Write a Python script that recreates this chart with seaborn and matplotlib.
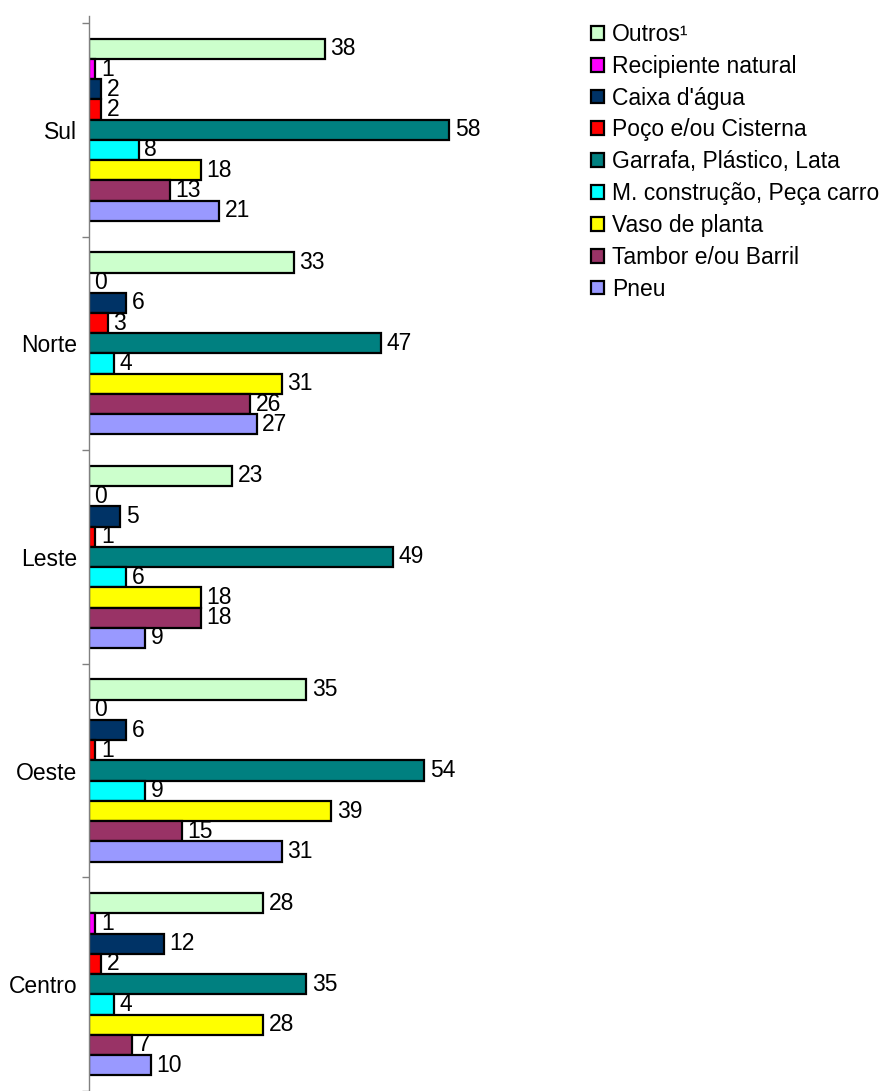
import numpy as np
import pandas as pd
import matplotlib
matplotlib.use("Agg")
import matplotlib.pyplot as plt
import seaborn as sns

regions = ["Sul", "Norte", "Leste", "Oeste", "Centro"]
categories = ["Outros¹", "Recipiente natural", "Caixa d'água", "Poço e/ou Cisterna",
              "Garrafa, Plástico, Lata", "M. construção, Peça carro", "Vaso de planta",
              "Tambor e/ou Barril", "Pneu"]
sul = [38, 1, 2, 2, 58, 8, 18, 13, 21]
norte = [33, 0, 6, 3, 47, 4, 31, 26, 27]
leste = [23, 0, 5, 1, 49, 6, 18, 18, 9]
oeste = [35, 0, 6, 1, 54, 9, 39, 15, 31]
centro = [28, 1, 12, 2, 35, 4, 28, 7, 10]
colors = ["#CCFFCC", "#FF00FF", "#003366", "#FF0000", "#008080",
          "#00FFFF", "#FFFF00", "#993366", "#9999FF"]

values = {"Sul": sul, "Norte": norte, "Leste": leste, "Oeste": oeste, "Centro": centro}
rows = []
for r in regions:
    for c, v in zip(categories, values[r]):
        rows.append({"Região": r, "Categoria": c, "Valor": v})
df = pd.DataFrame(rows)

sns.set_style("white")
plt.rcParams['font.family'] = ['Liberation Sans', 'DejaVu Sans']
plt.rcParams['text.color'] = 'black'
plt.rcParams['axes.labelcolor'] = 'black'
plt.rcParams['ytick.color'] = 'black'
FS = 16.5

W, H = 885, 1091
fig = plt.figure(figsize=(W / 100, H / 100), dpi=100)
scale = 6.21  # px per unit
xmax = 70
ax_left = 89 / W
ax_w = xmax * scale / W
top_px, bot_px = 16, 1091
ax = fig.add_axes([ax_left, 1 - bot_px / H, ax_w, (bot_px - top_px) / H])

sns.barplot(data=df, y="Região", x="Valor", hue="Categoria", order=regions,
            hue_order=categories, palette=colors, orient="y", width=0.853,
            edgecolor="black", linewidth=1.6, ax=ax, legend=True, saturation=1)

grp = 215.2
tick0 = 23
def pos_of(px):
    return (px - tick0) / grp - 0.5
ax.set_ylim(pos_of(bot_px), pos_of(top_px))
ax.set_xlim(0, xmax)

for cont in ax.containers:
    ax.bar_label(cont, fmt="%g", padding=4, fontsize=FS, color="black", clip_on=False)

ax.set_xlabel("")
ax.set_ylabel("")
ax.set_xticks([])
for s in ["top", "right", "bottom"]:
    ax.spines[s].set_visible(False)
ax.spines["left"].set_color("#808080")
ax.spines["left"].set_linewidth(1.0)
ax.tick_params(axis="y", which="major", length=0, pad=8.5, labelsize=FS, labelcolor="black")
ax.set_yticks(np.arange(-0.5, 4.6, 1.0), minor=True)
ax.tick_params(axis="y", which="minor", length=5, width=1.0, color="#808080", left=True)

handles, labels = ax.get_legend_handles_labels()
ax.legend_.remove()
leg = fig.legend(handles, labels, loc="upper left", bbox_to_anchor=(591 / W, 1 - 23 / H),
                 frameon=False, fontsize=FS, handlelength=0.55, handleheight=0.55,
                 handletextpad=0.35, labelspacing=0.385, borderpad=0, borderaxespad=0)
for t in leg.get_texts():
    t.set_color("black")

fig.savefig("out.png", dpi=100)
